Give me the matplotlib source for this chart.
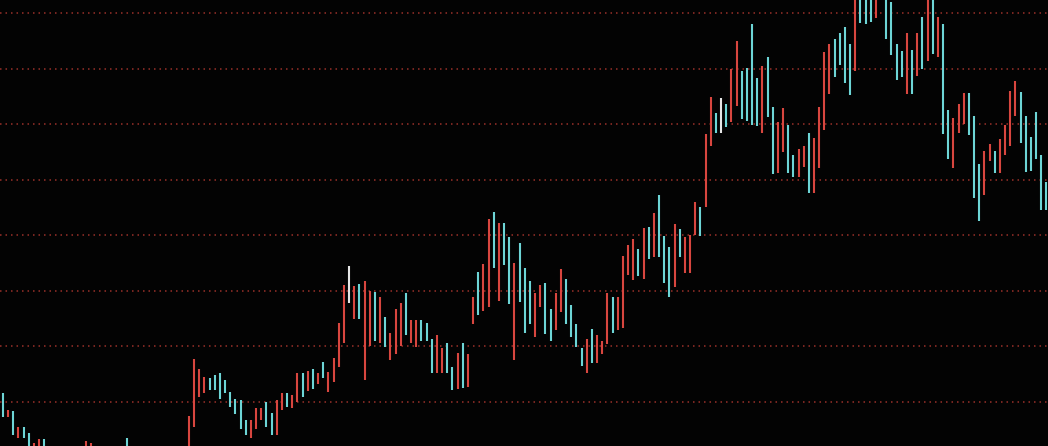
import matplotlib
matplotlib.use('Agg')
import matplotlib.pyplot as plt
import numpy as np

# daily highs / lows (left to right)
high = [100.84, 99.28, 99.19, 97.75, 97.75, 97.21, 96.31, 96.67, 96.67, 95.80,
        95.60, 95.30, 95.00, 95.40, 95.70, 95.90, 96.49, 96.31, 95.90, 95.60,
        95.20, 95.50, 95.80, 95.90, 96.76, 95.90, 95.50, 95.10, 94.90, 94.60,
        94.80, 95.10, 95.40, 95.70, 95.80, 95.90, 98.74, 103.87, 102.97, 102.25,
        102.16, 102.43, 102.61, 101.98, 100.90, 100.27, 100.18, 98.38, 98.38, 99.46,
        99.46, 100.00, 99.01, 100.18, 100.81, 100.81, 100.63, 102.61, 102.61, 102.79,
        102.97, 102.61, 103.60, 102.70, 103.96, 107.11, 110.53, 112.24, 110.44, 110.62,
        110.89, 109.99, 109.90, 109.45, 107.65, 106.21, 108.37, 108.91, 109.81, 107.38,
        107.38, 107.38, 107.11, 105.67, 106.03, 104.86, 105.31, 103.15, 104.41, 105.31,
        104.32, 109.45, 111.70, 112.42, 116.47, 117.10, 116.11, 116.11, 114.85, 112.51,
        114.31, 112.06, 110.89, 109.81, 110.53, 110.71, 108.37, 109.81, 111.97, 111.07,
        108.73, 107.02, 104.86, 105.67, 106.57, 106.03, 105.49, 109.81, 109.45, 109.45,
        113.14, 114.13, 114.67, 113.77, 115.66, 115.75, 117.01, 118.63, 114.94, 113.95,
        116.02, 115.57, 114.85, 115.03, 118.00, 117.55, 124.12, 127.45, 126.01, 127.36,
        126.82, 129.97, 132.49, 129.79, 130.06, 134.02, 129.16, 130.24, 131.05, 126.55,
        125.20, 126.46, 124.93, 122.23, 122.77, 123.04, 124.21, 123.76, 126.55, 131.50,
        132.22, 132.67, 133.21, 133.75, 132.22, 137.26, 136.72, 136.63, 136.72, 136.90,
        138.88, 137.08, 136.00, 132.22, 131.59, 133.21, 131.68, 133.21, 134.65, 136.90,
        136.63, 134.65, 134.02, 126.28, 125.56, 126.82, 127.81, 127.81, 125.74, 121.42,
        122.59, 123.22, 122.59, 123.67, 124.93, 127.99, 128.89, 127.90, 125.74, 123.85,
        126.10, 122.23, 119.80]

low = [98.68, 98.65, 97.03, 96.76, 96.76, 95.68, 95.50, 95.50, 95.50, 94.90,
       94.70, 94.40, 94.10, 94.50, 94.80, 95.00, 95.40, 95.30, 94.90, 94.60,
       94.30, 94.60, 94.80, 95.00, 95.40, 94.90, 94.50, 94.20, 94.00, 93.80,
       93.90, 94.10, 94.50, 94.70, 94.90, 95.00, 95.68, 97.75, 100.45, 100.81,
       101.08, 101.08, 100.27, 100.81, 99.55, 98.92, 97.57, 97.03, 96.76, 97.57,
       98.38, 97.75, 97.03, 97.03, 99.28, 99.55, 99.46, 100.00, 100.45, 100.99,
       101.17, 101.62, 102.16, 100.90, 101.80, 103.15, 105.31, 108.91, 107.47, 107.47,
       101.98, 105.04, 105.49, 105.31, 104.95, 103.78, 104.32, 105.04, 106.03, 105.31,
       104.95, 105.49, 105.49, 102.61, 102.61, 102.61, 102.61, 101.08, 101.17, 101.26,
       101.35, 107.02, 107.83, 108.19, 108.55, 112.06, 109.09, 112.33, 108.82, 103.78,
       109.00, 106.21, 107.02, 105.85, 108.55, 106.12, 105.49, 106.48, 108.10, 107.02,
       105.85, 104.95, 103.24, 102.61, 103.51, 103.51, 104.32, 105.22, 106.21, 106.48,
       106.66, 111.43, 110.98, 111.34, 111.07, 112.87, 113.05, 113.05, 110.71, 109.45,
       110.35, 113.05, 111.61, 111.61, 115.03, 114.94, 117.55, 123.04, 124.21, 124.21,
       124.75, 125.20, 126.64, 125.47, 125.29, 124.93, 124.84, 124.21, 125.65, 120.52,
       120.61, 122.50, 120.61, 120.25, 120.25, 121.15, 118.81, 118.81, 121.06, 124.48,
       127.72, 129.25, 130.33, 128.71, 127.63, 129.79, 134.11, 134.02, 134.20, 134.56,
       136.36, 132.67, 131.23, 128.98, 129.25, 127.72, 127.72, 129.34, 129.97, 130.69,
       131.32, 131.05, 124.12, 121.87, 121.06, 124.21, 125.02, 124.03, 118.36, 116.29,
       118.63, 121.69, 120.61, 120.61, 122.23, 123.04, 125.74, 123.31, 120.70, 120.79,
       121.87, 117.28, 117.28]

# 1 = close above open, -1 = close below open, 0 = unchanged
move = [-1, 1, -1, 1, -1, -1, 1, 1, -1, 1,
        -1, -1, 1, 1, 1, -1, 1, 1, -1, -1,
        1, 1, -1, 1, -1, -1, -1, 1, -1, 1,
        1, -1, 1, 1, -1, 1, 1, 1, 1, 1,
        -1, -1, -1, -1, -1, -1, -1, -1, 1, 1,
        1, -1, -1, 1, 1, -1, 1, 1, -1, 1,
        -1, 1, -1, 1, 1, 1, 1, 0, 1, -1,
        1, 1, -1, 1, -1, 1, 1, 1, -1, 1,
        1, -1, -1, -1, 1, 1, -1, -1, 1, -1,
        1, 1, -1, 1, 1, -1, 1, -1, -1, 1,
        -1, -1, -1, 1, 1, -1, -1, 1, 1, -1,
        -1, -1, -1, 1, -1, 1, 1, 1, -1, 1,
        1, 1, 1, -1, 1, -1, 1, -1, -1, -1,
        1, -1, 1, 1, 1, -1, 1, 1, -1, 0,
        -1, 1, 1, -1, -1, -1, -1, 1, -1, -1,
        1, 1, -1, -1, 1, 1, -1, 1, 1, 1,
        1, -1, -1, -1, -1, 1, -1, -1, -1, 1,
        1, -1, -1, -1, -1, 1, -1, 1, -1, 1,
        -1, 1, -1, -1, 1, 1, 1, -1, -1, -1,
        1, 1, -1, 1, 1, 1, 1, -1, -1, -1,
        -1, -1, -1]

levels = [100, 105, 110, 115, 120, 125, 130, 135]

up_col = '#d8463f'
down_col = '#6dd5d6'
flat_col = '#e6e6e6'
cols = {1: up_col, -1: down_col, 0: flat_col}

fig = plt.figure(figsize=(10.48, 4.46), dpi=100, facecolor='#030303')
ax = fig.add_axes([0, 0, 1, 1])
ax.set_facecolor('#030303')

for lv in levels:
    ax.axhline(lv, color='#9a302a', lw=1.1, linestyle=(0, (1, 2.6)), zorder=1)

x = np.arange(len(high))
c = [cols[m] for m in move]
ax.vlines(x, low, high, colors=c, linewidth=1.5, capstyle='butt', zorder=2)

ax.set_xlim(-0.58, 202.3)
ax.set_ylim(96.04, 136.18)
ax.axis('off')

fig.savefig('out.png', dpi=100, facecolor=fig.get_facecolor())
